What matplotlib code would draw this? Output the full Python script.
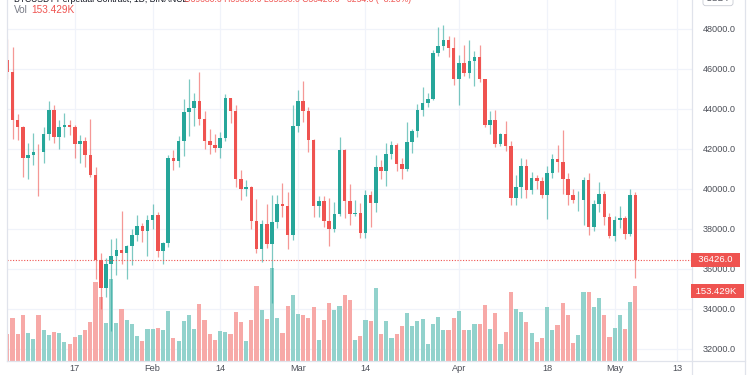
import matplotlib
matplotlib.use("Agg")
import matplotlib.pyplot as plt
from matplotlib.lines import Line2D
from matplotlib.patches import Rectangle
import pandas as pd

# ---------------- data ----------------
start_date = "2022-01-04"
opens = [46430, 45830, 43430, 43080, 41550, 41680, 41860, 41820, 42730, 43920,
         42570, 43080, 43170, 43100, 42220, 42370, 41680, 40690, 36440, 35050,
         36250, 36660, 36950, 36800, 37150, 37700, 38150, 37900, 38460, 38700,
         36880, 37300, 41550, 41400, 42400, 43850, 44050, 44400, 43500, 42370,
         42200, 42050, 42550, 44550, 43880, 40500, 39980, 40080, 38380, 37000,
         38250, 37260, 38350, 39230, 39120, 37700, 43150, 44400, 43900, 42450,
         39120, 39380, 38400, 37980, 38730, 41950, 39400, 38720, 38800, 37780,
         39670, 39280, 41100, 40900, 41750, 42200, 41260, 41000, 42350, 42880,
         43950, 44300, 44500, 46800, 47120, 47430, 47060, 45500, 46280, 45800,
         46400, 46580, 45500, 43170, 43440, 42250, 42750, 42150, 39520, 40070,
         41140, 39930, 40550, 40370, 39670, 40800, 41490, 41350, 40470, 39700,
         39430, 39440, 40420, 38100, 39230, 39730, 38590, 37630, 38460, 38520,
         37720, 39680]
highs = [47500, 47070, 43750, 43150, 42300, 42800, 42250, 43100, 44400, 44200,
         43450, 43800, 43450, 43180, 42700, 42600, 43500, 41100, 36800, 36550,
         37500, 37550, 38900, 37200, 38000, 38700, 38300, 38700, 39250, 38850,
         37350, 41700, 41950, 42650, 44500, 45500, 44800, 45850, 43900, 43000,
         42750, 42850, 44750, 44550, 44200, 40950, 40450, 40150, 39500, 38450,
         39250, 39700, 39700, 40300, 39850, 44200, 44950, 45400, 44100, 42500,
         39650, 39650, 39550, 39350, 42600, 42000, 40250, 39450, 39300, 39950,
         39880, 41700, 41450, 42300, 42400, 42300, 41550, 43350, 43000, 44250,
         45100, 44800, 46950, 48100, 48190, 47650, 47600, 46700, 47200, 47450,
         46900, 47200, 45500, 43900, 43950, 42800, 43400, 42400, 40700, 41550,
         41500, 40850, 40700, 40600, 41150, 41750, 42200, 42950, 40800, 39980,
         39900, 40600, 40800, 39450, 40350, 39900, 38800, 38650, 39150, 38650,
         40000, 39850]
lows = [45500, 42500, 42450, 40610, 40500, 41200, 39650, 41300, 42450, 42300,
        42000, 42600, 42700, 41550, 41300, 41100, 40600, 35500, 34000, 34600,
        32900, 35700, 36250, 35500, 36200, 37400, 37350, 36650, 38000, 36600,
        36250, 37100, 40950, 41100, 41650, 42650, 43150, 43200, 42000, 41750,
        41850, 41550, 42400, 43300, 40100, 39450, 39650, 38000, 36800, 36350,
        37050, 34300, 38050, 38600, 37000, 37450, 42850, 43350, 41850, 38600,
        38600, 38100, 37150, 37850, 38650, 38550, 38200, 38650, 37550, 37550,
        38100, 38850, 40500, 40150, 41500, 40900, 40500, 40900, 41800, 42600,
        43650, 44100, 44450, 46650, 46950, 46600, 45200, 44200, 45650, 45550,
        45150, 45350, 43100, 42750, 42100, 42150, 41880, 39200, 39200, 39550,
        39550, 39750, 40000, 39550, 38500, 40550, 40850, 39750, 39200, 39300,
        38900, 38200, 37700, 37900, 38850, 38200, 37550, 37400, 38050, 37500,
        37650, 35550]
closes = [45830, 43430, 43080, 41550, 41680, 41860, 41820, 42730, 43920, 42570,
          43080, 43170, 43100, 42220, 42370, 41680, 40690, 36440, 35050, 36250,
          36660, 36950, 36800, 37150, 37700, 38150, 37900, 38460, 38700, 36880,
          37300, 41550, 41400, 42400, 43850, 44050, 44400, 43500, 42370, 42200,
          42050, 42550, 44550, 43880, 40500, 39980, 40080, 38380, 37000, 38250,
          37260, 38350, 39230, 39120, 37700, 43150, 44400, 43900, 42450, 39120,
          39380, 38400, 37980, 38730, 41950, 39400, 38720, 38800, 37780, 39670,
          39280, 41100, 40900, 41750, 42200, 41260, 41000, 42350, 42880, 43950,
          44300, 44500, 46800, 47120, 47430, 47060, 45500, 46280, 45800, 46400,
          46580, 45500, 43170, 43440, 42250, 42750, 42150, 39520, 40070, 41140,
          39930, 40550, 40370, 39670, 40800, 41490, 41350, 40470, 39700, 39430,
          39440, 40420, 38100, 39230, 39730, 38590, 37630, 38460, 38520, 37720,
          39680, 36426]
volumes_k = [55.2, 88.0, 55.2, 94.1, 57.3, 45.0, 94.1, 63.4, 53.2, 59.3,
             57.3, 38.9, 34.8, 49.1, 53.2, 63.4, 79.8, 161.6, 130.9, 77.7,
             167.8, 77.7, 106.4, 83.9, 75.7, 51.2, 40.9, 65.5, 65.5, 67.5,
             63.4, 102.3, 47.1, 40.9, 81.8, 94.1, 65.5, 116.6, 83.9, 55.2,
             43.0, 61.4, 59.3, 55.2, 100.3, 79.8, 40.9, 83.9, 153.4, 104.3,
             85.9, 190.3, 88.0, 57.3, 112.5, 135.0, 96.2, 94.1, 88.0, 110.5,
             43.0, 83.9, 118.7, 104.3, 112.5, 135.0, 124.8, 43.0, 51.2, 83.9,
             81.8, 149.4, 55.2, 81.8, 47.1, 55.2, 71.6, 98.2, 71.6, 81.8,
             85.9, 34.8, 75.7, 90.0, 63.4, 63.4, 88.0, 102.3, 63.4, 63.4,
             75.7, 75.7, 114.6, 65.5, 98.2, 34.8, 59.3, 141.2, 106.4, 100.3,
             79.8, 57.3, 38.9, 47.1, 110.5, 63.4, 73.7, 118.7, 94.1, 36.8,
             53.2, 141.2, 141.2, 110.5, 128.9, 94.1, 49.1, 67.5, 94.1, 65.5,
             120.7, 153.429]
tick_dates = ["2022-01-17", "2022-02-01", "2022-02-14", "2022-03-01", "2022-03-14",
              "2022-04-01", "2022-04-18", "2022-05-01", "2022-05-13"]
tick_labels = ["17", "Feb", "14", "Mar", "14", "Apr", "18", "May", "13"]
price_ticks = [32000, 34000, 36000, 38000, 40000, 42000, 44000, 46000, 48000]
last_price = 36426.0
last_volume_label = "153.429K"

# ---------------- style ----------------
UP = "#26a69a"
DOWN = "#ef5350"
UP_VOL = "#92d2cc"
DOWN_VOL = "#f7a9a7"
GRID = "#f0f3fa"
TXT = "#4c4f58"
FONT = "Liberation Sans"

dates = pd.date_range(start_date, periods=len(closes), freq="D")
x0 = dates[0]
xs = [(d - x0).days for d in dates]
tick_x = [(pd.Timestamp(t) - x0).days for t in tick_dates]

W, H = 750, 375
fig = plt.figure(figsize=(7.5, 3.75), dpi=100)
fig.patch.set_facecolor("white")
L, R, T, B = 7, 692, 0, 361
axv = fig.add_axes([L / W, (H - B) / H, (R - L) / W, (B - T) / H])
ax = fig.add_axes([L / W, (H - B) / H, (R - L) / W, (B - T) / H], sharex=axv)
ax.patch.set_visible(False)

# volume
for x, o, c, v in zip(xs, opens, closes, volumes_k):
    axv.bar(x, v, width=0.8, color=UP_VOL if c >= o else DOWN_VOL, linewidth=0, zorder=2)
axv.set_ylim(0, 153.429 * (B - T) / 75.0)
axv.set_yticks([])

# candles
for x, o, h, l, c in zip(xs, opens, highs, lows, closes):
    col = UP if c >= o else DOWN
    ax.plot([x, x], [l, h], color=col, lw=0.9, alpha=0.6, solid_capstyle="butt", zorder=3)
    lo, hi = min(o, c), max(o, c)
    if hi - lo < 30:
        hi = lo + 30
    ax.add_patch(Rectangle((x - 0.34, lo), 0.68, hi - lo, facecolor=col,
                           edgecolor="none", zorder=4))

ymin = 48000 - (B - 28.7) / 0.02
ymax = 48000 + 28.7 / 0.02
ax.set_ylim(ymin, ymax)
ax.set_xlim(-0.06, 131.9)

ax.set_yticks(price_ticks)
ax.set_yticklabels([f"{p:.1f}" for p in price_ticks])
ax.yaxis.tick_right()
ax.tick_params(axis="y", length=0, pad=8, labelsize=6.6, labelcolor=TXT)
for lab in ax.get_yticklabels():
    lab.set_fontfamily(FONT)
ax.set_xticks(tick_x)
ax.set_xticklabels(tick_labels)
ax.tick_params(axis="x", length=0, pad=2.5, labelsize=6.6, labelcolor=TXT)
for lab in ax.get_xticklabels():
    lab.set_fontfamily(FONT)
axv.tick_params(axis="x", length=0, labelbottom=False)

# grid lines in background axes
for p in price_ticks:
    yv = (p - ymin) / (ymax - ymin)
    axv.axhline(yv * axv.get_ylim()[1], color=GRID, lw=0.9, zorder=0)
for tx in tick_x:
    axv.axvline(tx, color=GRID, lw=0.9, zorder=0)

for a in (ax, axv):
    for s in a.spines.values():
        s.set_visible(False)

# last price dotted line
ax.axhline(last_price, color=DOWN, lw=0.8, ls=(0, (1, 1.5)), zorder=5)

# frame lines
fig.add_artist(Line2D([L / W, 745 / W], [(H - B) / H] * 2, color="#e0e3eb", lw=0.9))
fig.add_artist(Line2D([L / W] * 2, [(H - B) / H, 1], color="#e0e3eb", lw=0.9))
fig.add_artist(Line2D([R / W] * 2, [0, 1], color="#e0e3eb", lw=0.9))
fig.add_artist(Line2D([745 / W] * 2, [0, 1], color="#e0e3eb", lw=0.9))

# price labels
def ybox(yc):
    return (H - yc) / H

fig.text(693 / W, ybox(260), f"  {last_price:.1f}  ", ha="left", va="center", fontsize=6.8,
         color="white", family=FONT,
         bbox=dict(boxstyle="square,pad=0.25", fc=DOWN, ec="none"))
fig.text(693 / W, ybox(291), f" {last_volume_label}  ", ha="left", va="center", fontsize=6.8,
         color="white", family=FONT,
         bbox=dict(boxstyle="square,pad=0.25", fc=DOWN, ec="none"))

# header (cut off at top like the reference)
fig.text(14 / W, (H - 4) / H, "BTCUSDT Perpetual Contract, 1D, BINANCE", ha="left",
         va="bottom", fontsize=6.2, color="#131722", family=FONT)
fig.text(184 / W, (H - 4) / H,
         "O39680.0 H39850.0 L35550.0 C36426.0 \u22123254.0 (\u22128.20%)",
         ha="left", va="bottom", fontsize=6.2, color=DOWN, family=FONT)
fig.text(14 / W, (H - 10) / H, "Vol", ha="left", va="center", fontsize=7.2,
         color="#787b86", family=FONT)
fig.text(31 / W, (H - 10) / H, last_volume_label, ha="left", va="center", fontsize=7.2,
         color=DOWN, family=FONT)
fig.text(718 / W, (H - 3) / H, "USDT", ha="center", va="bottom", fontsize=6.5,
         color=TXT, family=FONT,
         bbox=dict(boxstyle="round,pad=0.3", fc="white", ec="#c8cbd3", lw=0.6))

fig.savefig("out.png", dpi=100)
